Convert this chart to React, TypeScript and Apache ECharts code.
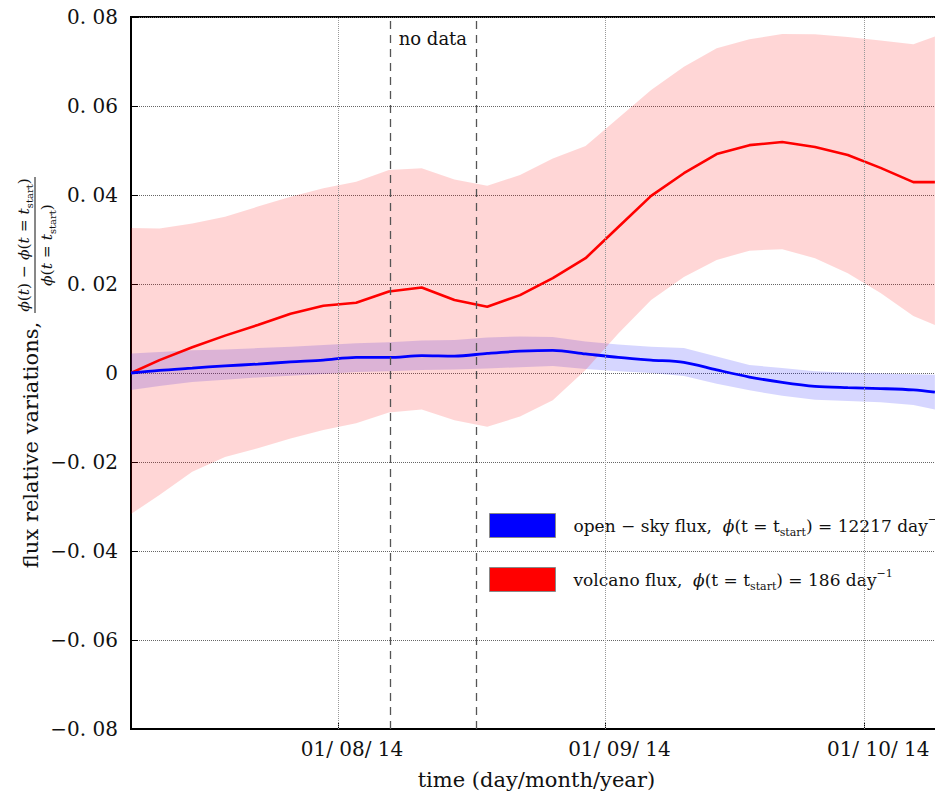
import React, { useEffect, useRef } from 'react';
import * as echarts from 'echarts';

// days counted from 1 July 2014 (day 0 = 01/07/14)
const xDays = [7.0, 10.3, 14.1, 17.9, 21.7, 25.5, 29.3, 33.1, 36.9, 40.7, 44.5, 48.3, 52.1, 55.9, 59.7, 63.5, 67.3, 71.1, 74.9, 78.7, 82.5, 86.3, 90.1, 93.9, 97.7, 100.2];

const volcanoMean = [0, 0.0029, 0.0058, 0.0084, 0.0108, 0.0133, 0.0151, 0.0158, 0.0183, 0.0192, 0.0164, 0.0149, 0.0175, 0.0213, 0.0258, 0.0328, 0.0398, 0.0449, 0.0492, 0.0512, 0.0519, 0.0508, 0.049, 0.0461, 0.0429, 0.0429];
const volcanoUpper = [0.0326, 0.0325, 0.0336, 0.0351, 0.0374, 0.0396, 0.0415, 0.043, 0.0456, 0.046, 0.0435, 0.0421, 0.0445, 0.0482, 0.051, 0.0573, 0.0636, 0.0688, 0.073, 0.075, 0.0762, 0.0761, 0.0755, 0.0747, 0.0739, 0.0756];
const volcanoLower = [-0.0317, -0.0274, -0.0222, -0.0189, -0.0169, -0.0147, -0.0128, -0.0113, -0.0089, -0.0082, -0.0106, -0.0121, -0.0098, -0.0061, 0.0007, 0.0089, 0.0164, 0.0216, 0.0254, 0.0275, 0.0278, 0.0258, 0.0224, 0.018, 0.0128, 0.0108];

const openMean = [0, 0.0006, 0.0011, 0.0016, 0.002, 0.0025, 0.0029, 0.0035, 0.0035, 0.0039, 0.0038, 0.0044, 0.0049, 0.0051, 0.0043, 0.0035, 0.0029, 0.0024, 0.0007, -0.0009, -0.0021, -0.003, -0.0033, -0.0035, -0.0038, -0.0043];
const openUpper = [0.0044, 0.0047, 0.0051, 0.0053, 0.0056, 0.0059, 0.0063, 0.0067, 0.0069, 0.0073, 0.0074, 0.008, 0.0082, 0.0081, 0.0071, 0.0064, 0.0059, 0.0056, 0.0037, 0.0018, 0.0011, 0.0004, 0.0001, -0.0001, -0.0003, -0.0004];
const openLower = [-0.0038, -0.0029, -0.002, -0.0015, -0.001, -0.0006, -0.0002, 0.0002, 0.0004, 0.0007, 0.0008, 0.001, 0.0013, 0.0016, 0.0009, 0.0004, 0.0, -0.0007, -0.0024, -0.0039, -0.0051, -0.006, -0.0063, -0.0066, -0.0072, -0.0082];

const xTickValues = [31, 62, 92];
const xTickLabels = ['01/ 08/ 14', '01/ 09/ 14', '01/ 10/ 14'];
const yTickValues = [-0.08, -0.06, -0.04, -0.02, 0, 0.02, 0.04, 0.06, 0.08];
const yTickLabels = ['\u22120. 08', '\u22120. 06', '\u22120. 04', '\u22120. 02', '0', '0. 02', '0. 04', '0. 06', '0. 08'];
const noDataRange = [37, 47];

const SERIF = '"DejaVu Serif", "Liberation Serif", serif';

const legendNames: Record<string, string> = {
  open: 'open \u2212 sky flux,  {i|\u03d5}(t = t{sub|start}) = 12217 day{sup|\u22121}',
  volcano: 'volcano flux,  {i|\u03d5}(t = t{sub|start}) = 186 day{sup|\u22121}',
};

export default function App() {
  const ref = useRef<HTMLDivElement>(null);
  useEffect(() => {
    if (!ref.current) return;
    const chart = echarts.init(ref.current, null, { renderer: 'svg' });
    const pairs = (ys: number[]) => xDays.map((x, i) => [x, ys[i]]);
    const bandData = (lo: number[], up: number[]) => xDays.map((x, i) => [x, lo[i], up[i]]);
    const bandSeries = (name: string, lo: number[], up: number[], color: string) => ({
      type: 'custom',
      name,
      silent: true,
      data: bandData(lo, up),
      encode: { x: 0, y: [1, 2] },
      renderItem: (params: any, api: any) => {
        if (params.dataIndex !== 0) return null;
        const top = xDays.map((x, i) => api.coord([x, up[i]]));
        const bottom = xDays.map((x, i) => api.coord([x, lo[i]])).reverse();
        return {
          type: 'polygon',
          shape: { points: top.concat(bottom) },
          style: { fill: color, stroke: 'none' },
        };
      },
    });
    const smallRich = (size: number, lh: number) => ({
      i: { fontFamily: SERIF, fontStyle: 'italic', fontSize: size, lineHeight: lh, color: '#111' },
      sub: { fontFamily: SERIF, fontSize: Math.round(size * 0.65), lineHeight: Math.round(lh * 0.6), verticalAlign: 'bottom', color: '#111' },
      sup: { fontFamily: SERIF, fontSize: Math.round(size * 0.65), lineHeight: Math.round(lh * 0.5), verticalAlign: 'top', color: '#111' },
    });
    const option: any = {
      animation: false,
      backgroundColor: '#fff',
      grid: {
        left: 131, top: 17, width: 810.8, height: 712,
        show: true, borderColor: '#000', borderWidth: 2, backgroundColor: 'transparent',
      },
      xAxis: {
        type: 'value', min: 7, max: 101,
        axisLine: { onZero: false, lineStyle: { color: '#000', width: 2 } },
        axisTick: { inside: true, length: 7, customValues: xTickValues, lineStyle: { color: '#000', width: 1 } },
        axisLabel: {
          customValues: xTickValues,
          formatter: (v: number) => {
            const i = xTickValues.indexOf(v);
            return i >= 0 ? xTickLabels[i] : '';
          },
          fontFamily: SERIF, fontSize: 20, color: '#111', margin: 10,
          padding: [0, 0, 0, 28],
        },
        splitLine: { show: false },
        name: 'time (day/month/year)',
        nameLocation: 'middle',
        nameGap: 40,
        nameTextStyle: { fontFamily: SERIF, fontSize: 21, color: '#111' },
      },
      yAxis: {
        type: 'value', min: -0.08, max: 0.08, interval: 0.02,
        axisLine: { onZero: false, lineStyle: { color: '#000', width: 2 } },
        axisTick: { inside: true, length: 7, lineStyle: { color: '#000', width: 1 } },
        axisLabel: {
          formatter: (v: number) => {
            const i = yTickValues.findIndex((t) => Math.abs(t - v) < 1e-9);
            return i >= 0 ? yTickLabels[i] : '';
          },
          fontFamily: SERIF, fontSize: 20, color: '#111', margin: 13,
        },
        splitLine: { show: true, lineStyle: { color: '#666', type: 'dotted', width: 1 } },
      },
      legend: {
        orient: 'vertical', left: 489, top: 513, padding: 0,
        data: ['open', 'volcano'],
        icon: 'rect', itemWidth: 66, itemHeight: 24, itemGap: 29,
        itemStyle: { borderColor: '#888', borderWidth: 1 },
        selectedMode: false,
        formatter: (n: string) => legendNames[n] || n,
        textStyle: {
          fontFamily: SERIF, fontSize: 17, color: '#111', lineHeight: 24, padding: [0, 0, 0, 13],
          rich: smallRich(17, 24),
        },
      },
      graphic: [
        {
          type: 'text', x: 31, y: 445, rotation: Math.PI / 2, silent: true,
          style: { text: 'flux relative variations,', fontFamily: SERIF, fontSize: 21, fill: '#111', align: 'center', verticalAlign: 'middle' },
        },
        {
          type: 'group', x: 35, y: 245, rotation: Math.PI / 2, silent: true,
          children: [
            {
              type: 'text', x: 0, y: -11,
              style: {
                text: '{i|\u03d5}({i|t}) \u2212 {i|\u03d5}({i|t} = {i|t}{sub|start})',
                fontFamily: SERIF, fontSize: 15.5, lineHeight: 20, fill: '#111', align: 'center', verticalAlign: 'middle',
                rich: smallRich(15.5, 20),
              },
            },
            { type: 'line', shape: { x1: -68, y1: 0, x2: 68, y2: 0 }, style: { stroke: '#111', lineWidth: 1 } },
            {
              type: 'text', x: 0, y: 12,
              style: {
                text: '{i|\u03d5}({i|t} = {i|t}{sub|start})',
                fontFamily: SERIF, fontSize: 15.5, lineHeight: 20, fill: '#111', align: 'center', verticalAlign: 'middle',
                rich: smallRich(15.5, 20),
              },
            },
          ],
        },
      ],
      series: [
        {
          type: 'line', name: 'gridX', data: [], silent: true,
          markLine: {
            silent: true, symbol: ['none', 'none'], label: { show: false },
            lineStyle: { color: '#999', type: 'dotted', width: 1 },
            data: xTickValues.map((v) => ({ xAxis: v })),
          },
        },
        bandSeries('openBand', openLower, openUpper, 'rgba(0,0,255,0.16)'),
        bandSeries('volcanoBand', volcanoLower, volcanoUpper, 'rgba(255,0,0,0.16)'),
        {
          type: 'line', name: 'volcano', data: pairs(volcanoMean), symbol: 'none',
          lineStyle: { color: '#ff0000', width: 2.6 }, itemStyle: { color: '#ff0000' },
          markLine: {
            silent: true, symbol: ['none', 'none'], label: { show: false },
            lineStyle: { color: '#555', type: [8, 6], width: 1.3 },
            data: noDataRange.map((v) => ({ xAxis: v })),
          },
          markArea: {
            silent: true,
            itemStyle: { color: 'transparent' },
            label: { show: true, position: 'insideTop', distance: 12, fontFamily: SERIF, fontSize: 18, color: '#111' },
            data: [[{ xAxis: noDataRange[0], name: 'no data' }, { xAxis: noDataRange[1] }]],
          },
        },
        {
          type: 'line', name: 'open', data: pairs(openMean), symbol: 'none', smooth: 0.3,
          lineStyle: { color: '#0000ff', width: 2.8 }, itemStyle: { color: '#0000ff' },
        },
      ],
    };
    chart.setOption(option);
    return () => chart.dispose();
  }, []);
  return (
    <div style={{ position: 'fixed', left: 0, top: 0, width: 935, height: 797, overflow: 'hidden', background: '#fff' }}>
      <div ref={ref} style={{ width: 1000, height: 797 }} />
    </div>
  );
}
